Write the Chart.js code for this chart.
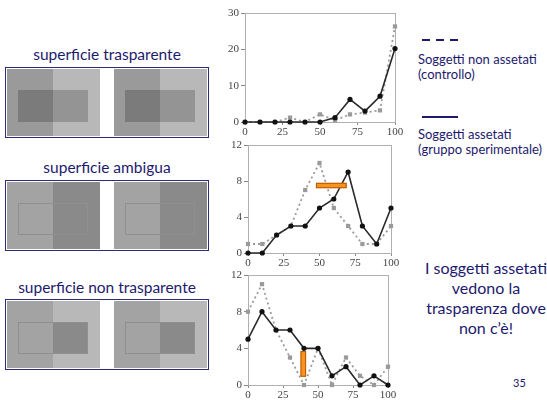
<!DOCTYPE html>
<html>
<head>
<meta charset="utf-8">
<script src="https://cdn.jsdelivr.net/npm/chart.js@4"></script>
<style>
  html, body { margin: 0; padding: 0; background: #fff; }
  #slide { position: relative; width: 547px; height: 400px; overflow: hidden; font-family: Lato, "Open Sans", sans-serif; color: #1d1a6d; }
  .abs { position: absolute; }
  .title { position: absolute; left: 0; width: 214px; text-align: center; font-size: 15.5px; }
  .panel { position: absolute; left: 5px; width: 202px; border: 1px solid #2e2b7a; background: #fff; }
  .img { position: absolute; top: 1px; width: 93px; }
  .legend { position: absolute; left: 418px; font-size: 13px; line-height: 15px; }
  .dash { position: absolute; top: 39px; width: 8px; height: 2px; background: #1d1a6d; }
  .note { position: absolute; left: 420px; width: 132px; text-align: center; font-size: 16px; line-height: 20px; }
  canvas { position: absolute; }
</style>
</head>
<body>
<div id="slide">
  <div class="title" style="top:45px">superficie trasparente</div>
  <div class="title" style="top:158px">superficie ambigua</div>
  <div class="title" style="top:278px">superficie non trasparente</div>

  <div class="dash" style="left:422px"></div>
  <div class="dash" style="left:436px"></div>
  <div class="dash" style="left:450px"></div>
  <div class="legend" style="top:52px">Soggetti non assetati<br>(controllo)</div>
  <div class="abs" style="left:422px;top:116px;width:36px;height:2px;background:#1d1a6d"></div>
  <div class="legend" style="top:127px">Soggetti assetati<br>(gruppo sperimentale)</div>

  <div class="note" style="top:258px">I soggetti assetati<br>vedono la<br>trasparenza dove<br>non c’è!</div>
  <div class="abs" style="left:513px;top:376px;font-size:11px">35</div>

  <canvas id="topChart" style="left:220px;top:0px" width="185" height="140"></canvas>
  <canvas id="midChart" style="left:220px;top:135px" width="185" height="135"></canvas>
  <canvas id="lowChart" style="left:220px;top:265px" width="185" height="135"></canvas>
</div>

<script>
// data
const xValues = [0, 10, 20, 30, 40, 50, 60, 70, 80, 90, 100];
const xTicks = [0, 25, 50, 75, 100];

const topSolid = [0, 0, 0, 0, 0, 0, 1.2, 6.2, 3, 7.1, 20.2];
const topDashed = [0, 0, 0, 1.2, 0, 2.1, 0.5, 2.1, 2.6, 3.2, 26.3];
const topTicks = [0, 10, 20, 30];

const midSolid = [0, 0, 2, 3, 3, 5, 6, 9, 3, 1, 5];
const midDashed = [1, 1, 2, 3, 7, 10, 5, 3, 1, 1, 3];
const midTicks = [0, 4, 8, 12];
const midHighlight = [47.5, 69, 7.2, 7.8]; // x from, x to, y from, y to

const lowSolid = [5, 8, 6, 6, 4, 4, 1, 2, 0, 1, 0];
const lowDashed = [8, 11, 6, 3, 0, 4, 0, 3, 1, 0, 2];
const lowTicks = [0, 4, 8, 12];
const lowHighlight = [37.5, 41.5, 0.9, 3.7];

// stimulus panels (left column)
function panel(top, outerL, outerR, innerL, innerR, outline) {
  const slide = document.getElementById('slide');
  const box = document.createElement('div');
  box.className = 'panel';
  box.style.top = top + 'px';
  box.style.height = '69px';
  slide.appendChild(box);
  [1, 108].forEach(function (left) {
    const img = document.createElement('div');
    img.className = 'img';
    img.style.left = left + 'px';
    img.style.height = '67px';
    img.innerHTML =
      '<div class="abs" style="left:0;top:0;width:46px;height:67px;background:' + outerL + '"></div>' +
      '<div class="abs" style="left:46px;top:0;width:47px;height:67px;background:' + outerR + '"></div>' +
      '<div class="abs" style="left:11px;top:21px;width:35px;height:32px;box-sizing:border-box;background:' + innerL +
        (outline ? ';border:1px solid ' + outline + ';border-right:none' : '') + '"></div>' +
      '<div class="abs" style="left:46px;top:21px;width:35px;height:32px;box-sizing:border-box;background:' + innerR +
        (outline ? ';border:1px solid ' + outline + ';border-left:none' : '') + '"></div>';
    box.appendChild(img);
  });
}
panel(67, '#9a9a9a', '#b8b8b8', '#7b7b7b', '#949494', null);
panel(180, '#a3a3a3', '#8a8a8a', '#a3a3a3', '#8a8a8a', '#8f8f8f');
panel(299, '#a3a3a3', '#b8b8b8', '#a3a3a3', '#8a8a8a', '#8f8f8f');

Chart.defaults.font.family = 'Liberation Serif, DejaVu Serif, serif';
Chart.defaults.font.size = 11;
Chart.defaults.color = '#444';
Chart.defaults.animation = false;

// grey frame round the plot, plus the orange highlight bar
const framePlugin = {
  id: 'frame',
  beforeDatasetsDraw(chart) {
    const a = chart.chartArea, ctx = chart.ctx;
    ctx.save();
    ctx.strokeStyle = '#b0b0b0';
    ctx.lineWidth = 1;
    ctx.strokeRect(a.left + 0.5, a.top + 0.5, a.right - a.left, a.bottom - a.top);
    ctx.restore();
  },
  afterDatasetsDraw(chart, args, opts) {
    if (!opts.box) return;
    const x = chart.scales.x, y = chart.scales.y, ctx = chart.ctx;
    const x0 = x.getPixelForValue(opts.box[0]), x1 = x.getPixelForValue(opts.box[1]);
    const y0 = y.getPixelForValue(opts.box[3]), y1 = y.getPixelForValue(opts.box[2]);
    ctx.save();
    ctx.fillStyle = '#f7941d';
    ctx.strokeStyle = '#b4580c';
    ctx.lineWidth = 1;
    ctx.fillRect(x0, y0, x1 - x0, y1 - y0);
    ctx.strokeRect(x0 + 0.5, y0 + 0.5, x1 - x0 - 1, y1 - y0 - 1);
    ctx.restore();
  }
};

function makeChart(id, solid, dashed, yTicks, axisW, axisH, pad, box) {
  new Chart(document.getElementById(id), {
    type: 'line',
    data: {
      datasets: [{
        data: dashed.map((v, i) => ({ x: xValues[i], y: v })),
        order: 2,
        borderColor: '#9a9a9a',
        borderWidth: 1.8,
        borderDash: [2, 3],
        pointStyle: 'rect',
        pointRadius: 3,
        pointBackgroundColor: '#9a9a9a',
        pointBorderWidth: 0,
        tension: 0,
        clip: false
      }, {
        data: solid.map((v, i) => ({ x: xValues[i], y: v })),
        order: 1,
        borderColor: '#2a2a2a',
        borderWidth: 1.6,
        pointStyle: 'circle',
        pointRadius: 2.6,
        pointBackgroundColor: '#111',
        pointBorderWidth: 0,
        tension: 0,
        clip: false
      }]
    },
    options: {
      responsive: false,
      layout: { padding: pad },
      plugins: { legend: { display: false }, tooltip: { enabled: false }, frame: { box: box } },
      scales: {
        x: {
          type: 'linear', min: 0, max: 100,
          afterBuildTicks: s => { s.ticks = xTicks.map(v => ({ value: v })); },
          afterFit: s => { s.height = axisH; },
          grid: { drawOnChartArea: false, tickLength: 3, color: '#888' },
          border: { color: '#888' },
          ticks: { padding: 1, maxRotation: 0 }
        },
        y: {
          min: yTicks[0], max: yTicks[yTicks.length - 1],
          afterBuildTicks: s => { s.ticks = yTicks.map(v => ({ value: v })); },
          afterFit: s => { s.width = axisW; },
          grid: { drawOnChartArea: false, tickLength: 4, color: '#888' },
          border: { color: '#888' },
          ticks: { padding: 2 }
        }
      }
    },
    plugins: [framePlugin]
  });
}

makeChart('topChart', topSolid, topDashed, topTicks, 25, 18, { top: 13, right: 10, left: 0, bottom: 0 }, null);
makeChart('midChart', midSolid, midDashed, midTicks, 28, 17, { top: 10, right: 14, left: 0, bottom: 0 }, midHighlight);
makeChart('lowChart', lowSolid, lowDashed, lowTicks, 28, 15, { top: 10, right: 17, left: 0, bottom: 0 }, lowHighlight);
</script>
</body>
</html>
